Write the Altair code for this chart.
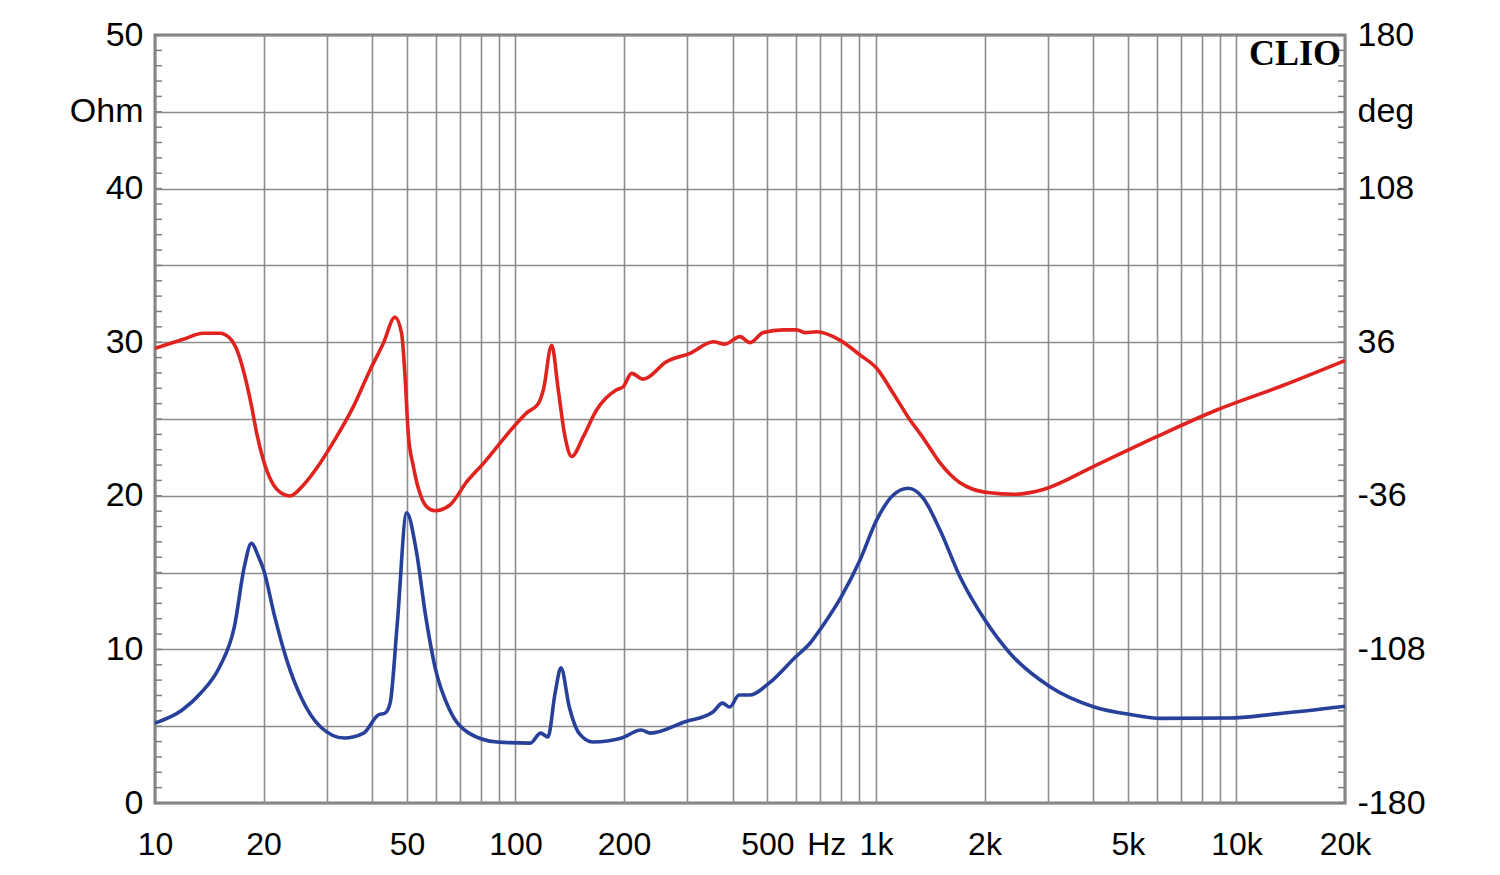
import altair as alt
import pandas as pd

# ---------------- data ----------------
# impedance (blue, left axis, Ohm)
imp_freq = [10, 11.9, 13.4, 15.1, 16.6, 17.7, 18.5, 19.4, 20, 21.5, 23.2, 25.4, 28.8,
            33.5, 37.9, 41.6, 43.5, 44.9, 47, 49.9, 53, 56.4, 59.8, 65.7, 74.3, 89,
            110, 117.4, 123, 128.8, 133.7, 141, 150, 164, 197, 223, 237, 294, 353,
            375, 393, 417, 447, 505, 598, 656, 708, 800, 903, 1004, 1117, 1229, 1353,
            1505, 1710, 2006, 2353, 3039, 4010, 5176, 6138, 9510, 12900, 20000]
imp_ohm = [5.2, 6.05, 7.16, 8.85, 11.46, 15.4, 16.9, 16.0, 15.2, 12.1, 9.3, 6.9, 4.95,
           4.23, 4.55, 5.73, 5.86, 6.5, 11.7, 18.9, 16.5, 12.1, 8.85, 6.05, 4.55, 3.97,
           3.9, 4.55, 4.3, 7.16, 8.8, 6.25, 4.55, 3.97, 4.23, 4.75, 4.55, 5.27, 5.92,
           6.5, 6.25, 7.03, 7.03, 7.8, 9.5, 10.4, 11.46, 13.4, 15.82, 18.42, 20.05, 20.49, 19.84,
           17.77, 14.73, 11.91, 9.75, 7.57, 6.27, 5.73, 5.51, 5.53, 5.8, 6.3]

# phase (red, right axis, deg)
ph_freq = [10, 11.98, 13.6, 15.15, 16.14, 17.02, 17.77, 18.54, 19.15, 19.98, 21.07, 22.44,
           23.69, 25.78, 28.7, 31.9, 35.5, 39.5, 43, 46.3, 48.3, 49.4, 50.4, 52.1, 54.3,
           56.7, 59.8, 65.8, 73.2, 81.4, 99.7, 107.4, 115.7, 119.5, 126, 131.4, 137.2,
           143.2, 154.2, 168, 190.8, 199, 210, 226, 262.6, 304.8, 353.8, 381, 419.6, 447,
           487, 553, 602.7, 635, 684, 794, 903, 1004, 1117, 1243, 1330, 1412, 1500, 1604,
           1710, 1850, 2071, 2404, 2911, 4008, 6008, 8811, 13500, 20000]
ph_deg = [33.1, 37.4, 40.2, 40.2, 37.8, 30.8, 19.8, 5.8, -6.7, -19.2, -29.4, -34.8,
          -36.1, -31.0, -20.7, -8.3, 5.8, 23.0, 35.5, 47.7, 40.2, 19.8, -6.7, -22.3, -34.8,
          -41.1, -43.0, -40.3, -29.5, -20.9, -2.9, 2.9, 7.2, 13.7, 34.6, 13.7, -8.3,
          -17.6, -8.3, 4.3, 13.7, 15.1, 21.4, 18.7, 26.9, 30.8, 36.2, 35.1, 38.6, 35.8,
          40.5, 41.8, 41.8, 40.5, 40.9, 37.0, 30.0, 23.8, 12.0, -0.5, -7.2, -13.7, -20.2, -25.9,
          -29.9, -32.8, -34.6, -35.3, -33.0, -22.3, -8.3, 4.2, 15.8, 27.4]

# axes
x_grid_vals = [10, 20, 30, 40, 50, 60, 70, 80, 90,
               100, 200, 300, 400, 500, 600, 700, 800, 900,
               1000, 2000, 3000, 4000, 5000, 6000, 7000, 8000, 9000,
               10000, 20000]
x_label_vals = [10, 20, 50, 100, 200, 500, 1000, 2000, 5000, 10000, 20000]
x_label_text = ["10", "20", "50", "100", "200", "500", "1k", "2k", "5k", "10k", "20k"]

ohm_grid_vals = [0, 5, 10, 15, 20, 25, 30, 35, 40, 45, 50]
deg_label_vals = [-180, -108, -36, 36, 108, 144, 180]
minor_ohm = list(range(0, 51))

unit_x = ["Hz"]
unit_x_pos = [730]

# ---------------- chart ----------------
W, H = 1190, 768
FONT = "Liberation Sans"
FSX = 32
FSY = 34

imp = pd.DataFrame({"f": imp_freq, "ohm": imp_ohm})
ph = pd.DataFrame({"f": ph_freq, "deg": ph_deg})
ticks = pd.DataFrame({"v": minor_ohm})
hz = pd.DataFrame({"f": unit_x_pos, "t": unit_x})
clio = pd.DataFrame({"t": ["CLIO"]})

x_expr = "".join(
    f"datum.value == {v} ? '{t}' : " for v, t in zip(x_label_vals, x_label_text)
) + "''"

xscale = alt.Scale(type="log", domain=[10, 20000], nice=False)
x_enc = alt.X(
    "f:Q", scale=xscale, title=None,
    axis=alt.Axis(values=x_grid_vals, labelExpr=x_expr, grid=True,
                  labelFlush=False, labelOverlap=False, labelBound=False,
                  labelPadding=26, labelFontSize=FSX),
)

ohm_scale = alt.Scale(domain=[0, 50], nice=False, zero=False)

blue = alt.Chart(imp).mark_line(
    color="#27409a", strokeWidth=3.6, interpolate="monotone"
).encode(
    x=x_enc,
    y=alt.Y("ohm:Q", scale=ohm_scale, title=None,
            axis=alt.Axis(orient="left", values=ohm_grid_vals, grid=True,
                          labelExpr="datum.value % 10 == 0 ? datum.label : (datum.value == 45 ? 'Ohm' : '')",
                          labelFlush=False, labelOverlap=False, labelBound=False,
                          labelPadding=12, labelFontSize=FSY)),
)

red = alt.Chart(ph).mark_line(
    color="#e1231f", strokeWidth=3.6, interpolate="monotone"
).encode(
    x=x_enc,
    y=alt.Y("deg:Q", scale=alt.Scale(domain=[-180, 180], nice=False, zero=False), title=None,
            axis=alt.Axis(orient="right", values=deg_label_vals, grid=False,
                          labelExpr="datum.value == 144 ? 'deg' : '' + datum.value",
                          labelFlush=False, labelOverlap=False, labelBound=False,
                          labelPadding=12, labelFontSize=FSY)),
)

left_ticks = alt.Chart(ticks).mark_rule(color="#7f7f7f", strokeWidth=1.5).encode(
    y=alt.Y("v:Q", scale=ohm_scale, axis=None),
    x=alt.value(0), x2=alt.value(7),
)
right_ticks = alt.Chart(ticks).mark_rule(color="#7f7f7f", strokeWidth=1.5).encode(
    y=alt.Y("v:Q", scale=ohm_scale, axis=None),
    x=alt.value(W - 7), x2=alt.value(W),
)

hz_text = alt.Chart(hz).mark_text(
    font=FONT, fontSize=FSX, color="black", baseline="alphabetic", align="center"
).encode(x=x_enc, y=alt.value(H + 52), text="t:N")

clio_text = alt.Chart(clio).mark_text(
    font="Liberation Serif", fontSize=36, fontWeight="bold", color="black",
    align="right", baseline="alphabetic"
).encode(x=alt.value(W - 4), y=alt.value(30), text="t:N")

chart = alt.layer(blue, red, left_ticks, right_ticks, hz_text, clio_text).resolve_scale(
    y="independent"
).properties(
    width=W, height=H,
    autosize=alt.AutoSizeParams(type="none"),
    padding={"left": 147, "top": 27, "right": 140, "bottom": 60},
    background="white",
).configure_axis(
    labelFont=FONT, labelColor="black",
    gridColor="#8c8c8c", gridWidth=1.6, gridOpacity=1,
    domain=False, ticks=False,
).configure_view(
    stroke="#7f7f7f", strokeWidth=3,
)

chart.save("out.html", embed_options={"renderer": "svg", "actions": False})
